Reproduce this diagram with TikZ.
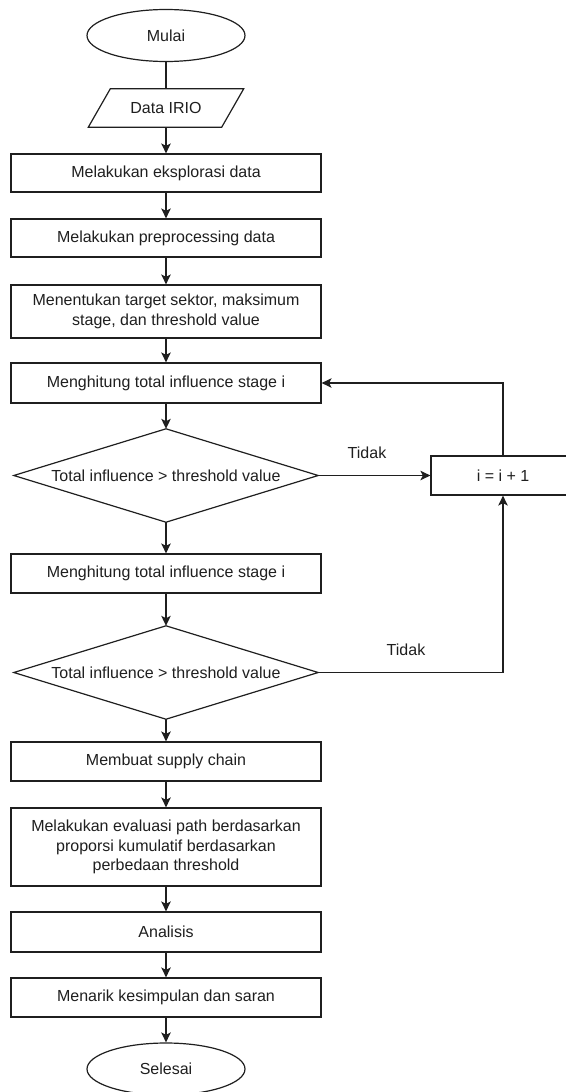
\documentclass[tikz,border=0pt]{standalone}
\usepackage{fontspec}
\setmainfont{Liberation Sans}
\usetikzlibrary{shapes.geometric,arrows.meta}
\begin{document}
\begin{tikzpicture}[x=1pt,y=-1pt,
  font=\fontsize{16}{19.5}\selectfont, text=black!88,
  line/.style={draw=black!88, line width=1.2pt},
  arr/.style={line, -{Stealth[length=10pt,width=9.5pt,inset=2.5pt]}},
  proc/.style={rectangle, line, minimum width=310pt, inner sep=0pt, align=center},
  term/.style={ellipse, line, minimum width=158pt, minimum height=52pt, inner sep=0pt},
  decbox/.style={rectangle, minimum width=304pt, minimum height=93pt, inner sep=0pt},
  lbl/.style={inner sep=0pt}]
\useasboundingbox[fill=white] (0,0) rectangle (565,1092);

\node[term] (start) at (166,35.5) {Mulai};
\node[inner sep=0pt, minimum width=133pt, minimum height=38pt] (data) at (166,108) {Data IRIO};
\draw[line] ([xshift=-11pt]data.south west) -- ([xshift=-11pt]data.south east)
  -- ([xshift=11pt]data.north east) -- ([xshift=11pt]data.north west) -- cycle;
\node[proc, minimum height=38pt] (b1) at (166,173) {Melakukan eksplorasi data};
\node[proc, minimum height=38pt] (b2) at (166,238) {Melakukan preprocessing data};
\node[proc, minimum height=53pt] (b3) at (166,311.5) {Menentukan target sektor, maksimum\\stage, dan threshold value};
\node[proc, minimum height=40pt] (b4) at (166,383) {Menghitung total influence stage i};
\node[decbox] (d1) at (166,475.5) {Total influence > threshold value};
\draw[line] (d1.north) -- (d1.east) -- (d1.south) -- (d1.west) -- cycle;
\node[rectangle, line, minimum width=144pt, minimum height=39pt, inner sep=0pt] (inc) at (503,475.5) {i = i + 1};
\node[proc, minimum height=39pt] (b5) at (166,573.5) {Menghitung total influence stage i};
\node[decbox] (d2) at (166,672.5) {Total influence > threshold value};
\draw[line] (d2.north) -- (d2.east) -- (d2.south) -- (d2.west) -- cycle;
\node[proc, minimum height=39pt] (b6) at (166,761.5) {Membuat supply chain};
\node[proc, minimum height=78pt] (b7) at (166,847) {Melakukan evaluasi path berdasarkan\\proporsi kumulatif berdasarkan\\perbedaan threshold};
\node[proc, minimum height=40pt] (b8) at (166,932) {Analisis};
\node[proc, minimum height=39pt] (b9) at (166,997.5) {Menarik kesimpulan dan saran};
\node[term] (end) at (166,1069) {Selesai};

\node[lbl] (t1) at (367,453) {Tidak};
\node[lbl] (t2) at (406,650) {Tidak};

\draw[line] (start) -- (data);
\draw[arr] (data) -- (b1);
\draw[arr] (b1) -- (b2);
\draw[arr] (b2) -- (b3);
\draw[arr] (b3) -- (b4);
\draw[arr] (b4) -- (d1);
\draw[arr] (d1) -- (b5);
\draw[arr] (b5) -- (d2);
\draw[arr] (d2) -- (b6);
\draw[arr] (b6) -- (b7);
\draw[arr] (b7) -- (b8);
\draw[arr] (b8) -- (b9);
\draw[arr] (b9) -- (end);
\draw[arr] (d1.east) -- (inc.west);
\draw[arr] (inc.north) |- (b4.east);
\draw[arr] (d2.east) -| (inc.south);
\end{tikzpicture}
\end{document}
